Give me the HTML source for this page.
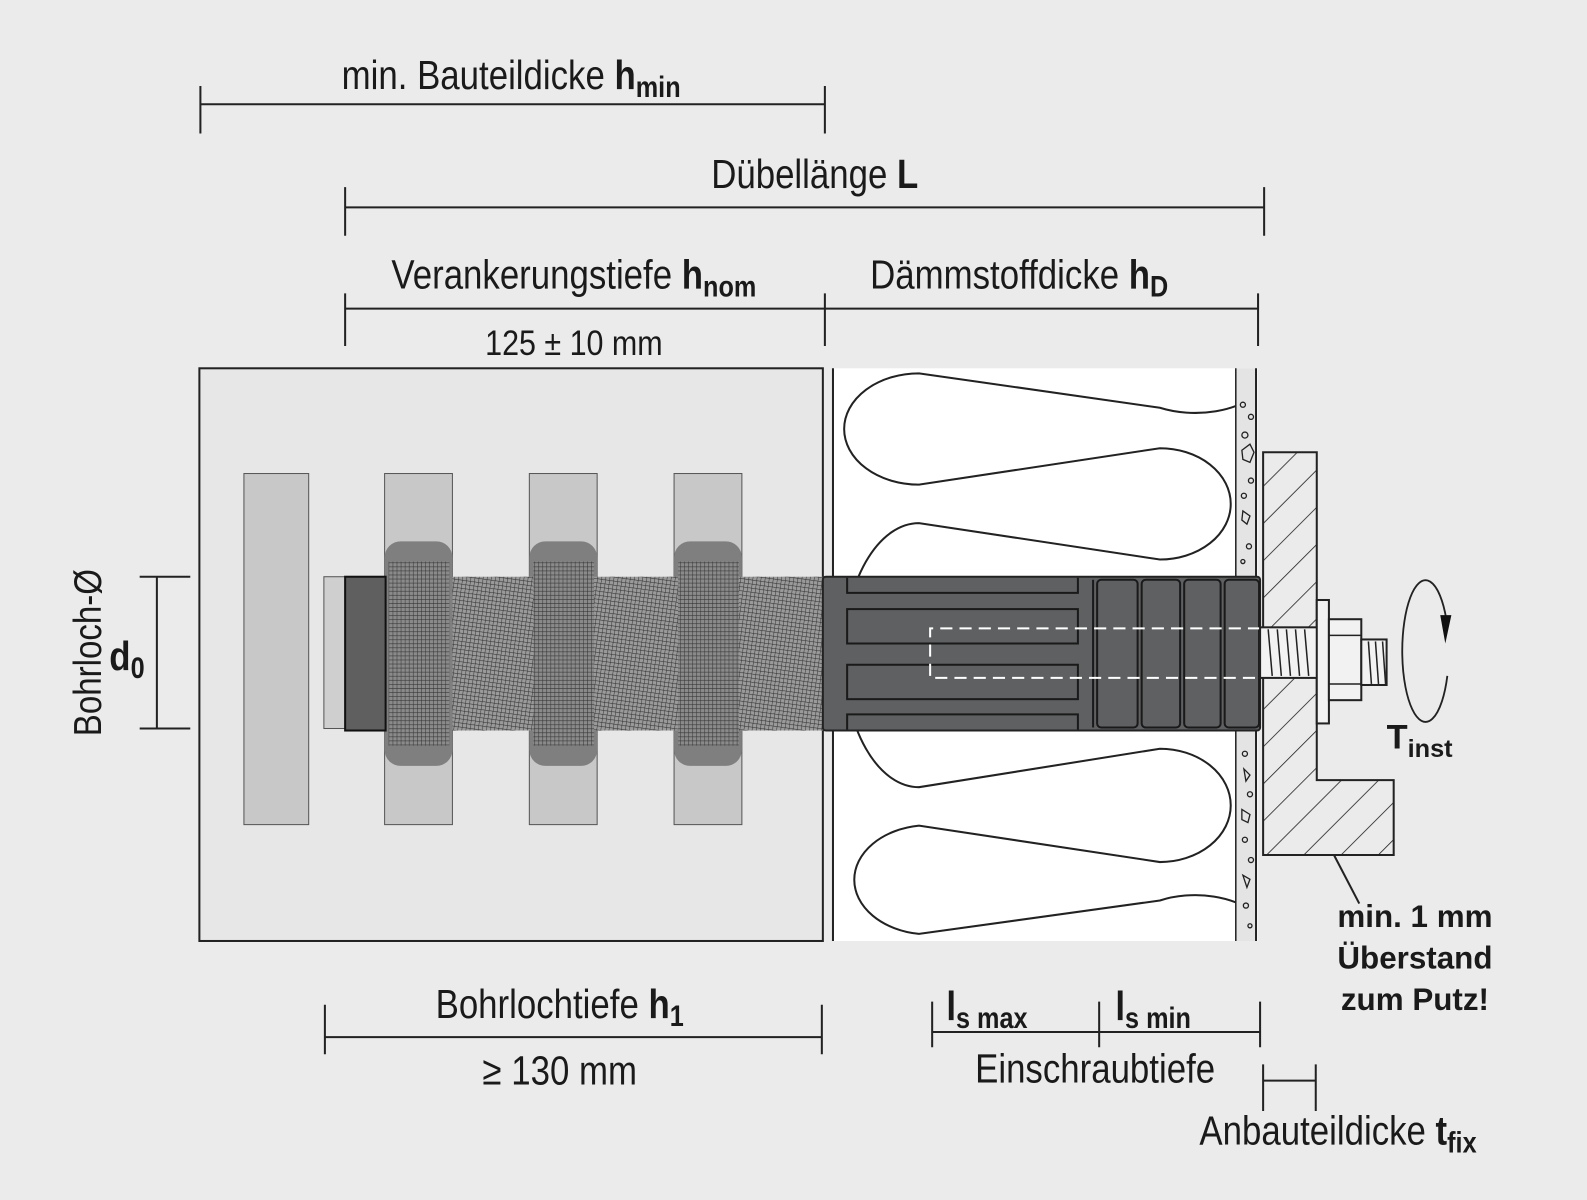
<!DOCTYPE html>
<html><head><meta charset="utf-8"><style>
html,body{margin:0;padding:0;background:#ebebeb;}
svg{display:block}
text{font-family:"Liberation Sans Narrow","Liberation Sans",sans-serif;fill:#1a1a1a}
</style></head><body>
<svg width="1587" height="1200" viewBox="0 0 1568 1186" preserveAspectRatio="none" xmlns="http://www.w3.org/2000/svg">
<defs>
<pattern id="mesh" width="4" height="4" patternUnits="userSpaceOnUse" patternTransform="rotate(8)">
<rect width="4" height="4" fill="#9a9a9a"/><path d="M0 0H4M0 0V4" stroke="#333" stroke-width="1"/>
</pattern>
<pattern id="mesh2" width="4" height="4" patternUnits="userSpaceOnUse">
<rect width="4" height="4" fill="#8a8a8a"/><path d="M0 0H4M0 0V4" stroke="#333" stroke-width="1"/>
</pattern>
<pattern id="hatch" width="26" height="26" patternUnits="userSpaceOnUse" patternTransform="rotate(45)">
<rect width="26" height="26" fill="#ebebeb"/><path d="M0 0V26" stroke="#222" stroke-width="1.6"/>
</pattern>
<clipPath id="ins"><rect x="823" y="364" width="398" height="566"/></clipPath>
</defs>
<rect width="1568" height="1186" fill="#ebebeb"/>

<!-- concrete -->
<rect x="197" y="364" width="616" height="566" fill="#e7e7e7" stroke="#222" stroke-width="2"/>
<rect x="241" y="468" width="64" height="347" fill="#c8c8c8" stroke="#555" stroke-width="1"/>
<g fill="#c8c8c8" stroke="#555" stroke-width="1">
<rect x="380" y="468" width="67" height="347"/><rect x="523" y="468" width="67" height="347"/><rect x="666" y="468" width="67" height="347"/>
</g>
<g fill="#7f7f80">
<rect x="380" y="535" width="67" height="222" rx="16"/><rect x="523" y="535" width="67" height="222" rx="16"/><rect x="666" y="535" width="67" height="222" rx="16"/>
</g>
<rect x="320" y="570" width="21" height="150" fill="#cfcfcf" stroke="#555" stroke-width="1"/>
<rect x="447" y="570" width="366" height="152" fill="url(#mesh)"/>
<rect x="341" y="570" width="40" height="152" fill="#5f5f60" stroke="#111" stroke-width="2"/>
<rect x="384" y="555" width="60" height="182" fill="url(#mesh2)"/>
<rect x="527" y="555" width="60" height="182" fill="url(#mesh2)"/>
<rect x="670" y="555" width="60" height="182" fill="url(#mesh2)"/>

<!-- insulation -->
<rect x="823" y="364" width="420" height="566" fill="#fff"/>
<line x1="823" y1="364" x2="823" y2="930" stroke="#222" stroke-width="2"/>
<g clip-path="url(#ins)" fill="none" stroke="#222" stroke-width="2">
<path d="M1216,330 A70 40 0 0 1 1146,403 L908,369 A74 55 0 0 0 908,479 L1146,443 A70 55 0 0 1 1146,553 L908,517 A74 130 0 0 0 908,778 L1146,740 A70 56 0 0 1 1146,852 L908,816 A74 54 0 0 0 908,923 L1146,890 A70 40 0 0 1 1216,960"/>
</g>
<!-- plaster -->
<rect x="1221" y="364" width="20" height="566" fill="#e4e4e4"/>
<line x1="1221" y1="364" x2="1221" y2="930" stroke="#222" stroke-width="1.5"/>
<line x1="1241" y1="364" x2="1241" y2="930" stroke="#222" stroke-width="2"/>
<g fill="none" stroke="#222" stroke-width="1.3">
<circle cx="1228" cy="400" r="2.5"/><circle cx="1236" cy="412" r="2.5"/><circle cx="1230" cy="430" r="3"/><path d="M1227,445 l8,-6 l4,8 l-4,10 l-7,-3z"/><circle cx="1236" cy="475" r="2.5"/><circle cx="1229" cy="490" r="2.5"/><path d="M1228,505 l7,5 l-3,8 l-5,-4z"/><circle cx="1234" cy="540" r="2.5"/><circle cx="1228" cy="555" r="2"/>
<circle cx="1230" cy="745" r="2.5"/><path d="M1229,760 l6,6 l-4,6z"/><circle cx="1235" cy="785" r="2.5"/><path d="M1227,800 l8,5 l-2,8 l-6,-3z"/><circle cx="1230" cy="830" r="2.5"/><circle cx="1236" cy="850" r="2.5"/><path d="M1228,865 l7,4 l-3,8z"/><circle cx="1231" cy="895" r="2.5"/><circle cx="1235" cy="915" r="2"/>
</g>

<!-- plastic part -->
<rect x="813" y="570" width="432" height="152" fill="#5f6062" stroke="#222" stroke-width="2" rx="3"/>
<g fill="none" stroke="#1a1a1a" stroke-width="2">
<path d="M837,571 V586 H1065 V571 M837,721 V706 H1065 V721"/>
<rect x="837" y="602" width="228" height="34"/>
<rect x="837" y="657" width="228" height="34"/>
<path d="M1080,573 V719"/>
<rect x="1084" y="573" width="40" height="146" rx="4"/>
<rect x="1128" y="573" width="38" height="146" rx="4"/>
<rect x="1170" y="573" width="36" height="146" rx="4"/>
<rect x="1210" y="573" width="34" height="146" rx="4"/>
</g>
<g fill="none" stroke="#fff" stroke-width="2" stroke-dasharray="12,7">
<path d="M1245,621 H919 V670 H1245"/>
</g>

<!-- fixture -->
<path d="M1248,447 H1301 V771 H1377 V845 H1248Z" fill="url(#hatch)" stroke="#222" stroke-width="2"/>
<!-- bolt -->
<rect x="1245" y="620" width="60" height="50" fill="#f2f2f2" stroke="#222" stroke-width="2"/>
<g stroke="#222" stroke-width="1.5"><path d="M1253,622 l4,46 M1262,622 l4,46 M1271,622 l4,46 M1280,622 l4,46 M1289,622 l4,46"/></g>
<rect x="1301" y="593" width="12" height="122" fill="#f2f2f2" stroke="#222" stroke-width="2"/>
<rect x="1313" y="612" width="32" height="80" fill="#f2f2f2" stroke="#222" stroke-width="2"/>
<path d="M1313,628 H1345 M1313,676 H1345" stroke="#222" stroke-width="1.5"/>
<rect x="1345" y="632" width="25" height="45" fill="#f2f2f2" stroke="#222" stroke-width="2"/>
<g stroke="#222" stroke-width="1.5"><path d="M1352,634 l3,42 M1359,634 l3,42 M1366,634 l3,42"/></g>
<path d="M1430,668 A23 70 0 1 1 1429,612" fill="none" stroke="#222" stroke-width="1.8"/>
<path d="M1423,608 L1434,608 L1428,636Z" fill="#111"/>
<text x="1370" y="740" font-size="34" font-weight="bold" style="font-family:'Liberation Sans',sans-serif">T<tspan font-size="25" dy="8">inst</tspan></text>

<!-- dimension lines -->
<g stroke="#222" stroke-width="2" fill="none">
<path d="M198,103 H815 M198,85 V132 M815,85 V132"/>
<path d="M341,205 H1249 M341,185 V233 M1249,185 V233"/>
<path d="M341,305 H815 M341,290 V342 M815,290 V342 M815,305 H1243 M1243,290 V342"/>
<path d="M138,570 H188 M138,720 H188 M155,570 V720"/>
<path d="M321,1025 H812 M321,993 V1042 M812,993 V1042"/>
<path d="M921,1020 H1245 M921,990 V1035 M1086,990 V1035 M1245,990 V1035"/>
<path d="M1248,1068 H1300 M1248,1052 V1098 M1300,1052 V1098"/>
<path d="M1318,845 L1343,893"/>
</g>

<g font-size="40" text-anchor="middle">
<text transform="translate(505 88) scale(.86 1)">min. Bauteildicke <tspan font-weight="bold">h<tspan font-size="29" dy="8">min</tspan></tspan></text>
<text transform="translate(805 186) scale(.86 1)">Dübellänge <tspan font-weight="bold">L</tspan></text>
<text transform="translate(567 285) scale(.86 1)">Verankerungstiefe <tspan font-weight="bold">h<tspan font-size="29" dy="8">nom</tspan></tspan></text>
<text transform="translate(1007 285) scale(.86 1)">Dämmstoffdicke <tspan font-weight="bold">h<tspan font-size="29" dy="8">D</tspan></tspan></text>
<text transform="translate(567 351) scale(.86 1)" font-size="35">125 ± 10 mm</text>
<text transform="translate(553 1006) scale(.86 1)">Bohrlochtiefe <tspan font-weight="bold">h<tspan font-size="29" dy="8">1</tspan></tspan></text>
<text transform="translate(553 1072) scale(.86 1)">≥ 130 mm</text>
<text transform="translate(1082 1070) scale(.86 1)">Einschraubtiefe</text>
<text transform="translate(1322 1131) scale(.86 1)">Anbauteildicke <tspan font-weight="bold">t<tspan font-size="29" dy="8">fix</tspan></tspan></text>
<text transform="translate(100 645) rotate(-90) scale(.86 1)" font-size="38">Bohrloch-Ø</text>
</g>
<g font-size="40" font-weight="bold">
<text transform="translate(935 1008) scale(.86 1)">l<tspan font-size="29" dy="8">s max</tspan></text>
<text transform="translate(1102 1008) scale(.86 1)">l<tspan font-size="29" dy="8">s min</tspan></text>
<text transform="translate(108 662) scale(.86 1)">d<tspan font-size="29" dy="8">0</tspan></text>
</g>
<g font-size="31" font-weight="bold" text-anchor="middle">
<text x="1398" y="916">min. 1 mm</text>
<text x="1398" y="957">Überstand</text>
<text x="1398" y="998">zum Putz!</text>
</g>
</svg>
</body></html>
